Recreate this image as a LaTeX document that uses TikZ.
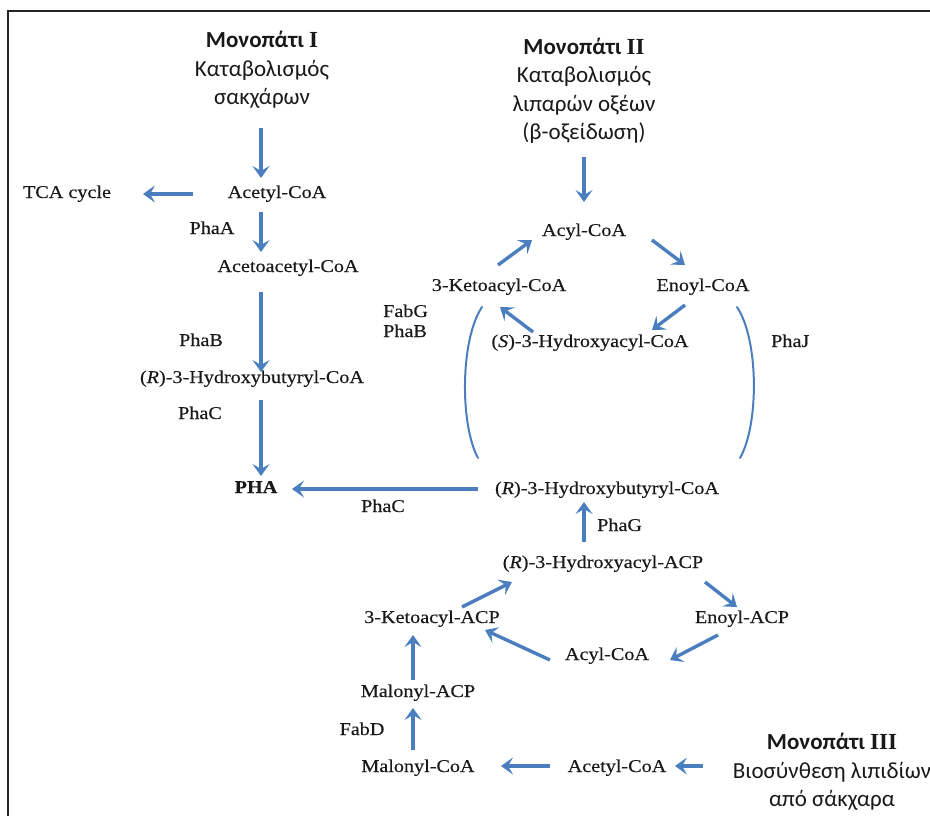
\documentclass[tikz,border=0pt]{standalone}
\usepackage{fontspec}
\setmainfont{Liberation Serif}[FakeStretch=1.12,FakeBold=0.3]
\newfontfamily\headfont{Carlito}
\newfontfamily\romfont{Liberation Serif}
\usetikzlibrary{arrows.meta}
\definecolor{pathblue}{RGB}{74,126,190}
\definecolor{inktext}{RGB}{25,25,25}
\newcommand{\romnum}[1]{{\romfont\bfseries #1}}
\begin{document}
\begin{tikzpicture}[x=1pt,y=-1pt,
 lbl/.style={font=\fontsize{18}{20}\selectfont, text=inktext, inner sep=0pt, text height=12pt, text depth=4pt},
 enz/.style={lbl, align=left},
 head/.style={font=\headfont\fontsize{23}{28.5}\selectfont, text=inktext, align=center, inner sep=0pt},
 flow/.style={draw=pathblue, line width=3.4pt, -{Stealth[length=12pt,width=17pt,inset=5pt]}},
 bracket/.style={draw=pathblue, line width=2pt, line cap=round},
 frame/.style={draw=black!85, line width=2.5pt}]
\useasboundingbox (0,0) rectangle (930,816);
\draw[frame] (8,816) -- (8,11) -- (930,11);

% headers
\node[head] (h1) at (262,70) {{\bfseries Μονοπάτι \romnum{I}}\\Καταβολισμός\\σακχάρων};
\node[head] (h2) at (584,91) {{\bfseries Μονοπάτι \romnum{II}}\\Καταβολισμός\\λιπαρών οξέων\\(β-οξείδωση)};
\node[head] (h3) at (832,772) {{\bfseries Μονοπάτι \romnum{III}}\\Βιοσύνθεση λιπιδίων\\από σάκχαρα};

% pathway I
\node[lbl] (tca) at (67,194) {TCA cycle};
\node[lbl] (acI) at (277,194) {Acetyl-CoA};
\node[enz] (phaA) at (212,230) {PhaA};
\node[lbl] (acac) at (288,268) {Acetoacetyl-CoA};
\node[enz] (phaB) at (201,342) {PhaB};
\node[lbl] (hbI) at (252,379) {(\textit{R})-3-Hydroxybutyryl-CoA};
\node[enz] (phaC1) at (200,415) {PhaC};
\node[lbl] (pha) at (256,489) {\textbf{PHA}};
\node[enz] (phaC2) at (383,508) {PhaC};
\node[lbl] (hbII) at (607,490) {(\textit{R})-3-Hydroxybutyryl-CoA};

% pathway II
\node[lbl] (acylI) at (584,232) {Acyl-CoA};
\node[lbl] (ketoCoA) at (499,287) {3-Ketoacyl-CoA};
\node[lbl] (enoylCoA) at (703,287) {Enoyl-CoA};
\node[lbl] (sHyd) at (590,343) {(\textit{S})-3-Hydroxyacyl-CoA};
\node[enz, anchor=west] (fabG) at (383,333) {FabG\\PhaB};
\node[enz, anchor=west] (phaJ) at (771,343) {PhaJ};

% pathway III
\node[enz, anchor=west] (phaG) at (597,527) {PhaG};
\node[lbl] (hacp) at (603,564) {(\textit{R})-3-Hydroxyacyl-ACP};
\node[lbl] (ketoACP) at (432,619) {3-Ketoacyl-ACP};
\node[lbl] (enoylACP) at (742,619) {Enoyl-ACP};
\node[lbl] (acylII) at (607,656) {Acyl-CoA};
\node[lbl] (malACP) at (418,693) {Malonyl-ACP};
\node[enz] (fabD) at (362,731) {FabD};
\node[lbl] (malCoA) at (418,768) {Malonyl-CoA};
\node[lbl] (acII) at (617,768) {Acetyl-CoA};

% connectors, pathway I
\draw[flow] ([shift={(-1,58)}]h1.center) -- ([shift={(-16,-16)}]acI.center);
\draw[flow] ([shift={(-84,0)}]acI.center) -- ([shift={(76,0)}]tca.center);
\draw[flow] ([shift={(-16,18)}]acI.center) -- ([shift={(-27,-16)}]acac.center);
\draw[flow] ([shift={(-27,24)}]acac.center) -- ([shift={(9,-7)}]hbI.center);
\draw[flow] ([shift={(9,21)}]hbI.center) -- ([shift={(5,-13)}]pha.center);
\draw[flow] ([shift={(-129,-1)}]hbII.center) -- ([shift={(36,0)}]pha.center);

% connectors, pathway II
\draw[flow] ([shift={(0,66)}]h2.center) -- ([shift={(0,-30)}]acylI.center);
\draw[flow] ([shift={(-1,-22)}]ketoCoA.center) -- ([shift={(-52,8)}]acylI.center);
\draw[flow] ([shift={(68,8)}]acylI.center) -- ([shift={(-18,-22)}]enoylCoA.center);
\draw[flow] ([shift={(-18,18)}]enoylCoA.center) -- ([shift={(62,-13)}]sHyd.center);
\draw[flow] ([shift={(-57,-11)}]sHyd.center) -- ([shift={(1,20)}]ketoCoA.center);
\draw[bracket] ([shift={(-17,20)}]ketoCoA.center) .. controls (460,340) and (460,425) .. ([shift={(-129,-32)}]hbII.center);
\draw[bracket] ([shift={(34,20)}]enoylCoA.center) .. controls (759,340) and (759,425) .. ([shift={(133,-32)}]hbII.center);

% connectors, pathway III
\draw[flow] ([shift={(-19,-22)}]hacp.center) -- ([shift={(-23,12)}]hbII.center);
\draw[flow] ([shift={(30,-12)}]ketoACP.center) -- ([shift={(-91,18)}]hacp.center);
\draw[flow] ([shift={(102,18)}]hacp.center) -- ([shift={(-5,-12)}]enoylACP.center);
\draw[flow] ([shift={(-24,16)}]enoylACP.center) -- ([shift={(63,4)}]acylII.center);
\draw[flow] ([shift={(-57,4)}]acylII.center) -- ([shift={(53,11)}]ketoACP.center);
\draw[flow] ([shift={(-5,-13)}]malACP.center) -- ([shift={(-19,16)}]ketoACP.center);
\draw[flow] ([shift={(-5,-18)}]malCoA.center) -- ([shift={(-5,15)}]malACP.center);
\draw[flow] ([shift={(-67,-2)}]acII.center) -- ([shift={(83,-2)}]malCoA.center);
\draw[flow] ([shift={(-129,-6)}]h3.center) -- ([shift={(58,-2)}]acII.center);
\end{tikzpicture}
\end{document}
